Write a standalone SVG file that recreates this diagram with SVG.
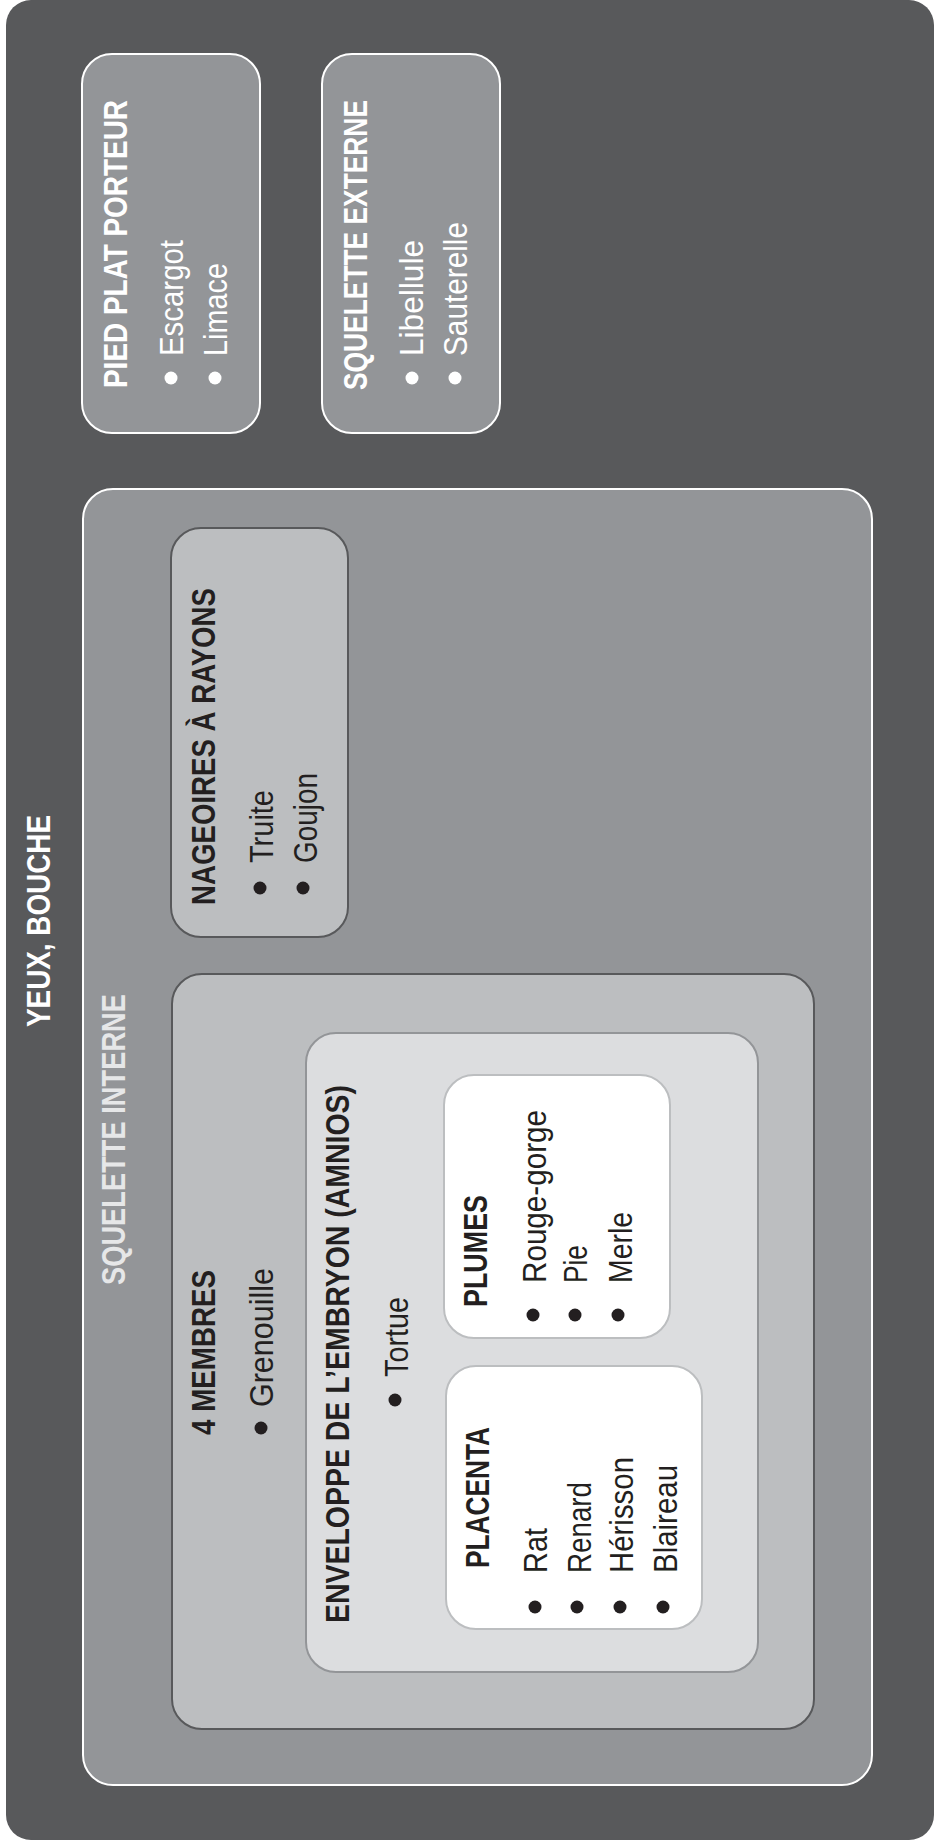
<svg xmlns="http://www.w3.org/2000/svg" width="934" height="1847" viewBox="0 0 934 1847">
<style>
text{font-family:"Liberation Sans","DejaVu Sans",sans-serif;font-size:33px}
.t{font-weight:bold}
.w{fill:#ffffff}
.lw{fill:#e6e7e8}
.k{fill:#231f20}
.dark{fill:#58595b}
.mid{fill:#939598;stroke:#ffffff;stroke-width:2}
.lite{fill:#bcbec0;stroke:#58595b;stroke-width:2}
.amn{fill:#dcdddf;stroke:#939598;stroke-width:2}
.wht{fill:#ffffff;stroke:#bcbec0;stroke-width:2}
.bw{fill:#ffffff}
.bk{fill:#231f20}
</style>
<rect width="934" height="1847" fill="#ffffff"/>
<g id="yeux-bouche">
<rect class="dark" x="6" y="0" width="928" height="1840" rx="25"/>
<text class="t w" transform="translate(50,1027) rotate(-90)" textLength="212" lengthAdjust="spacingAndGlyphs">YEUX, BOUCHE</text>
</g>
<g id="pied-plat">
<rect class="mid" x="82" y="54" width="178" height="379" rx="30"/>
<text class="t w" transform="translate(127,388) rotate(-90)" textLength="288" lengthAdjust="spacingAndGlyphs">PIED PLAT PORTEUR</text>
<circle class="bw" cx="171" cy="378" r="6.5"/>
<text class="w" transform="translate(183,356) rotate(-90)" textLength="116" lengthAdjust="spacingAndGlyphs">Escargot</text>
<circle class="bw" cx="215" cy="378" r="6.5"/>
<text class="w" transform="translate(227,356) rotate(-90)" textLength="93" lengthAdjust="spacingAndGlyphs">Limace</text>
</g>
<g id="squelette-externe">
<rect class="mid" x="322" y="54" width="178" height="379" rx="30"/>
<text class="t w" transform="translate(367,390) rotate(-90)" textLength="290" lengthAdjust="spacingAndGlyphs">SQUELETTE EXTERNE</text>
<circle class="bw" cx="412" cy="378" r="6.5"/>
<text class="w" transform="translate(423,356) rotate(-90)" textLength="116" lengthAdjust="spacingAndGlyphs">Libellule</text>
<circle class="bw" cx="455" cy="378" r="6.5"/>
<text class="w" transform="translate(467,356) rotate(-90)" textLength="134" lengthAdjust="spacingAndGlyphs">Sauterelle</text>
</g>
<g id="squelette-interne">
<rect class="mid" x="83" y="489" width="789" height="1296" rx="30"/>
<text class="t lw" transform="translate(125,1285) rotate(-90)" textLength="291" lengthAdjust="spacingAndGlyphs">SQUELETTE INTERNE</text>
</g>
<g id="nageoires">
<rect class="lite" x="171" y="528" width="177" height="409" rx="30"/>
<text class="t k" transform="translate(215,905) rotate(-90)" textLength="317" lengthAdjust="spacingAndGlyphs">NAGEOIRES À RAYONS</text>
<circle class="bk" cx="260" cy="888" r="6.5"/>
<text class="k" transform="translate(273,863) rotate(-90)" textLength="73" lengthAdjust="spacingAndGlyphs">Truite</text>
<circle class="bk" cx="303" cy="888" r="6.5"/>
<text class="k" transform="translate(317,863) rotate(-90)" textLength="90" lengthAdjust="spacingAndGlyphs">Goujon</text>
</g>
<g id="quatre-membres">
<rect class="lite" x="172" y="974" width="642" height="755" rx="30"/>
<text class="t k" transform="translate(215,1435) rotate(-90)" textLength="165" lengthAdjust="spacingAndGlyphs">4 MEMBRES</text>
<circle class="bk" cx="261" cy="1428" r="6.5"/>
<text class="k" transform="translate(273,1407) rotate(-90)" textLength="139" lengthAdjust="spacingAndGlyphs">Grenouille</text>
</g>
<g id="amnios">
<rect class="amn" x="306" y="1033" width="452" height="639" rx="30"/>
<text class="t k" transform="translate(349,1623) rotate(-90)" textLength="538" lengthAdjust="spacingAndGlyphs">ENVELOPPE DE L’EMBRYON (AMNIOS)</text>
<circle class="bk" cx="395" cy="1400" r="6.5"/>
<text class="k" transform="translate(408,1377) rotate(-90)" textLength="80" lengthAdjust="spacingAndGlyphs">Tortue</text>
</g>
<g id="plumes">
<rect class="wht" x="444" y="1075" width="226" height="263" rx="30"/>
<text class="t k" transform="translate(487,1307) rotate(-90)" textLength="112" lengthAdjust="spacingAndGlyphs">PLUMES</text>
<circle class="bk" cx="533" cy="1315" r="6.5"/>
<text class="k" transform="translate(546,1283) rotate(-90)" textLength="173" lengthAdjust="spacingAndGlyphs">Rouge-gorge</text>
<circle class="bk" cx="575" cy="1315" r="6.5"/>
<text class="k" transform="translate(587,1283) rotate(-90)" textLength="38" lengthAdjust="spacingAndGlyphs">Pie</text>
<circle class="bk" cx="618" cy="1315" r="6.5"/>
<text class="k" transform="translate(632,1283) rotate(-90)" textLength="71" lengthAdjust="spacingAndGlyphs">Merle</text>
</g>
<g id="placenta">
<rect class="wht" x="446" y="1366" width="256" height="263" rx="30"/>
<text class="t k" transform="translate(489,1568) rotate(-90)" textLength="141" lengthAdjust="spacingAndGlyphs">PLACENTA</text>
<circle class="bk" cx="535" cy="1607" r="6.5"/>
<text class="k" transform="translate(547,1573) rotate(-90)" textLength="45" lengthAdjust="spacingAndGlyphs">Rat</text>
<circle class="bk" cx="577" cy="1607" r="6.5"/>
<text class="k" transform="translate(591,1573) rotate(-90)" textLength="91" lengthAdjust="spacingAndGlyphs">Renard</text>
<circle class="bk" cx="620" cy="1607" r="6.5"/>
<text class="k" transform="translate(633,1573) rotate(-90)" textLength="116" lengthAdjust="spacingAndGlyphs">Hérisson</text>
<circle class="bk" cx="663" cy="1607" r="6.5"/>
<text class="k" transform="translate(677,1573) rotate(-90)" textLength="108" lengthAdjust="spacingAndGlyphs">Blaireau</text>
</g>
<g id="connectors"/>
</svg>
